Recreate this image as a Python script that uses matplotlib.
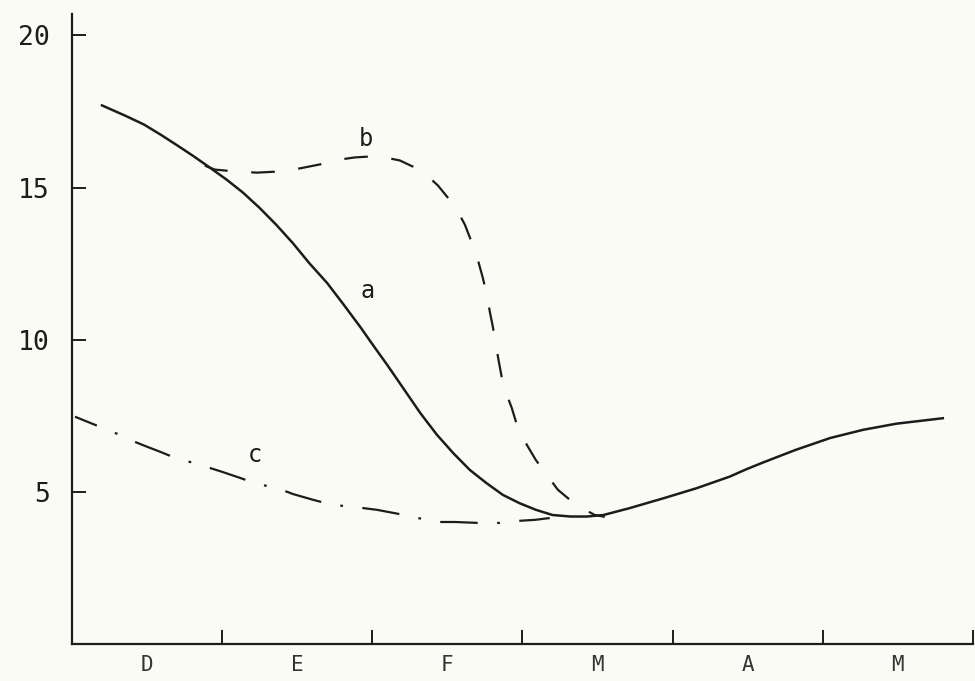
import matplotlib.pyplot as plt

plt.rcParams['lines.scale_dashes'] = False

# months (D..M) as x positions 0..6, boundaries at the ticks
months = ['D', 'E', 'F', 'M', 'A', 'M']

# curve a (solid)
a_x = [0.20, 0.36, 0.48, 0.59, 0.70, 0.81, 0.92, 1.03, 1.14, 1.25, 1.36, 1.47, 1.58,
       1.70, 1.81, 1.92, 2.03, 2.10, 2.21, 2.32, 2.43, 2.54, 2.65, 2.76, 2.87, 2.98,
       3.09, 3.20, 3.32, 3.43, 3.54, 3.71, 3.94, 4.16, 4.38, 4.49, 4.60, 4.82, 5.05,
       5.27, 5.49, 5.80]
a_y = [17.70, 17.35, 17.07, 16.74, 16.39, 16.03, 15.65, 15.26, 14.83, 14.33, 13.78, 13.18, 12.52,
       11.86, 11.15, 10.42, 9.65, 9.17, 8.38, 7.59, 6.88, 6.27, 5.72, 5.29, 4.90, 4.63,
       4.41, 4.24, 4.19, 4.19, 4.24, 4.46, 4.79, 5.12, 5.50, 5.74, 5.96, 6.38, 6.77,
       7.04, 7.24, 7.42]

# curve b (dashed)
b_x = [0.885, 0.952, 1.085, 1.232, 1.385, 1.518, 1.651, 1.784, 1.884, 1.984, 2.084, 2.184,
       2.270, 2.350, 2.437, 2.503, 2.570, 2.617, 2.663, 2.703, 2.736, 2.763, 2.783, 2.803,
       2.823, 2.843, 2.863, 2.896, 2.929, 2.969, 3.029, 3.089, 3.162, 3.236, 3.316, 3.395,
       3.482, 3.549]
b_y = [15.72, 15.59, 15.53, 15.49, 15.53, 15.63, 15.76, 15.92, 15.99, 16.02, 15.99, 15.89,
       15.69, 15.46, 15.07, 14.67, 14.21, 13.78, 13.19, 12.63, 12.04, 11.48, 10.92, 10.43,
       9.84, 9.28, 8.75, 8.19, 7.76, 7.11, 6.55, 6.05, 5.56, 5.07, 4.74, 4.47,
       4.24, 4.18]

# curve c (dash-dot)
c_x = [0.020, 0.120, 0.220, 0.300, 0.386, 0.486, 0.586, 0.686, 0.832, 0.999, 1.119, 1.232,
       1.365, 1.471, 1.605, 1.738, 1.871, 2.031, 2.171, 2.304, 2.450, 2.550, 2.703, 2.850,
       2.983, 3.083, 3.182]
c_y = [7.47, 7.27, 7.07, 6.91, 6.71, 6.51, 6.32, 6.12, 5.92, 5.66, 5.46, 5.26,
       5.13, 4.93, 4.74, 4.57, 4.51, 4.41, 4.28, 4.14, 4.01, 4.01, 3.98, 3.98,
       4.05, 4.08, 4.14]

ink = '#1c1c1c'
paper = '#fbfbf6'
mono = 'DejaVu Sans Mono'

fig = plt.figure(figsize=(9.75, 6.81), dpi=100, facecolor=paper)
ax = fig.add_axes([0.0738, 0.0543, 0.924, 0.925], facecolor=paper)

ax.plot(a_x, a_y, color=ink, lw=1.8)
ax.plot(b_x, b_y, color=ink, lw=1.6, linestyle=(0, (17, 17)))
ax.plot(c_x, c_y, color=ink, lw=1.6, linestyle=(10, (27, 14, 2, 14)))

ax.text(1.97, 11.6, 'a', fontsize=17, family=mono, color=ink, ha='center', va='center')
ax.text(1.96, 16.6, 'b', fontsize=17, family=mono, color=ink, ha='center', va='center')
ax.text(1.22, 6.2, 'c', fontsize=17, family=mono, color=ink, ha='center', va='center')

ax.set_xlim(0, 6.0)
ax.set_ylim(0, 20.7)

for s in ['top', 'right']:
    ax.spines[s].set_visible(False)
for s in ['left', 'bottom']:
    ax.spines[s].set_linewidth(1.6)
    ax.spines[s].set_color(ink)

ax.set_yticks([5, 10, 15, 20])
ax.set_yticklabels(['5', '10', '15', '20'], family=mono, fontsize=19, color=ink)
ax.tick_params(axis='y', direction='in', length=10, width=1.4, pad=16, colors=ink)

ax.set_xticks([1, 2, 3, 4, 5, 6])
ax.set_xticklabels([])
ax.set_xticks([i + 0.5 for i in range(6)], minor=True)
ax.set_xticklabels(months, minor=True, family=mono, fontsize=15, color='#333333')
ax.tick_params(axis='x', which='major', direction='in', length=10, width=1.4, colors=ink)
ax.tick_params(axis='x', which='minor', length=0, pad=8)

plt.savefig('out.png', dpi=100, facecolor=paper)
